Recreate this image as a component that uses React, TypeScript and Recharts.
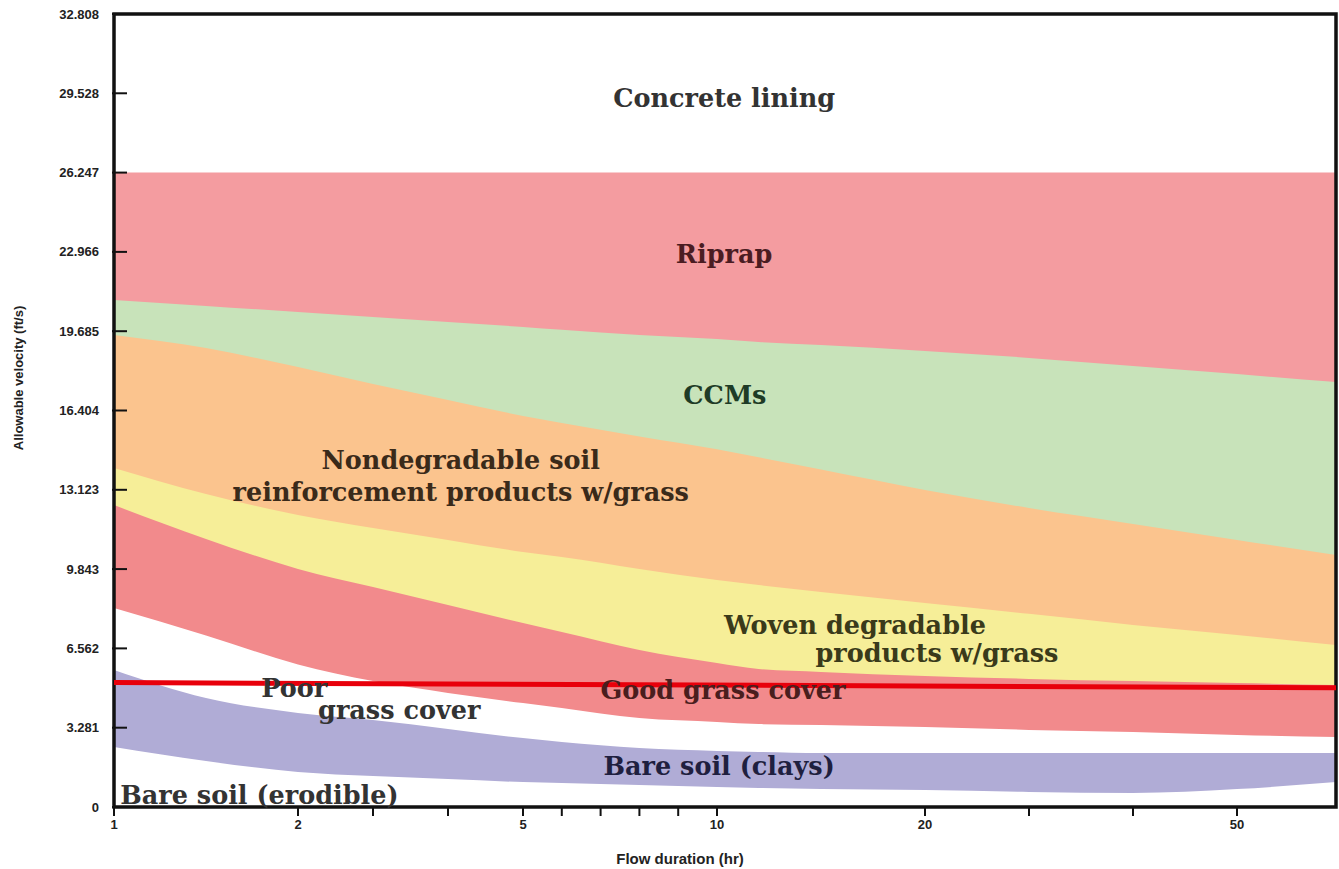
import { Area, ComposedChart, Line, ReferenceArea, ReferenceDot, XAxis, YAxis } from "recharts";

// flow duration (hr) at which the band edges were read
const DURATION_HR = [1, 1.5, 2, 3, 4, 5, 6, 8, 10, 12, 15, 20, 30, 40, 50, 60];

// upper edge of each lining band, allowable velocity in ft/s
const RIPRAP_TOP = [26.247, 26.247, 26.247, 26.247, 26.247, 26.247, 26.247, 26.247, 26.247, 26.247, 26.247, 26.247, 26.247, 26.247, 26.247, 26.247];
const CCM_TOP = [20.98, 20.73, 20.48, 20.27, 20.07, 19.86, 19.74, 19.53, 19.36, 19.24, 19.11, 18.87, 18.58, 18.25, 17.91, 17.58];
const NONDEGRADABLE_TOP = [19.53, 18.99, 18.2, 17.5, 16.84, 16.18, 15.89, 15.33, 14.8, 14.47, 13.96, 13.12, 12.37, 11.71, 11.05, 10.43];
const WOVEN_TOP = [14.03, 12.95, 12.08, 11.54, 11.05, 10.55, 10.34, 9.85, 9.39, 9.18, 8.9, 8.44, 7.99, 7.53, 7.12, 6.7];
const GOOD_GRASS_TOP = [12.49, 11.09, 9.85, 9.1, 8.36, 7.61, 7.24, 6.5, 5.96, 5.71, 5.59, 5.42, 5.3, 5.21, 5.13, 5.05];
const POOR_GRASS_TOP = [8.23, 7.1, 5.9, 5.21, 4.72, 4.3, 4.1, 3.68, 3.52, 3.43, 3.39, 3.31, 3.19, 3.1, 2.98, 2.9];
const CLAYS_TOP = [5.67, 4.51, 3.89, 3.6, 3.23, 2.85, 2.69, 2.44, 2.32, 2.28, 2.23, 2.23, 2.23, 2.23, 2.23, 2.23];
const ERODIBLE_TOP = [2.48, 1.9, 1.45, 1.28, 1.16, 1.03, 0.99, 0.91, 0.83, 0.79, 0.74, 0.7, 0.62, 0.58, 0.74, 1.03];

// red design line, only its two ends
const LIMIT = [5.15, null, null, null, null, null, null, null, null, null, null, null, null, null, null, 4.93];

// the printed duration axis is stretched piecewise (1-2, 2-5, 5-10, 10-20, 20-60)
const SCALE_HOURS = [1, 2, 5, 10, 20, 50, 60];
const SCALE_UNITS = [0, 184, 409, 603, 811, 1123, 1222];

const X_TICK_HOURS = [1, 2, 3, 4, 5, 6, 7, 8, 9, 10, 20, 30, 40, 50];
const X_LABELLED = [1, 2, 5, 10, 20, 50];
const Y_TICKS = [0, 3.281, 6.562, 9.843, 13.123, 16.404, 19.685, 22.966, 26.247, 29.528, 32.808];

const COLORS = {
  riprap: "#f49ca0",
  ccm: "#c8e3ba",
  nondegradable: "#fbc48e",
  woven: "#f6ee98",
  goodGrass: "#f28a8c",
  clays: "#b0acd6",
  limit: "#e8000b",
};

const NOTES = [
  { text: "Concrete lining", hr: 10.34, v: 29.33, color: "#333333" },
  { text: "Riprap", hr: 10.34, v: 22.88, color: "#4b1c22" },
  { text: "CCMs", hr: 10.38, v: 17.05, color: "#1e3b26" },
  { text: "Nondegradable soil", hr: 4.17, v: 14.36, color: "#3a2a1a" },
  { text: "reinforcement products w/grass", hr: 4.17, v: 13.03, color: "#3a2a1a" },
  { text: "Woven degradable", hr: 16.63, v: 7.53, color: "#3a3a1a" },
  { text: "products w/grass", hr: 21.15, v: 6.37, color: "#3a3a1a" },
  { text: "Good grass cover", hr: 10.29, v: 4.84, color: "#4a1e1e" },
  { text: "Poor", hr: 1.98, v: 4.92, color: "#333333" },
  { text: "grass cover", hr: 3.35, v: 4.01, color: "#333333" },
  { text: "Bare soil (clays)", hr: 10.1, v: 1.7, color: "#1f1f3f" },
  { text: "Bare soil (erodible)", hr: 1.79, v: 0.5, color: "#333333" },
];

const SANS = "'Liberation Sans', Arial, sans-serif";
const SERIF = "'DejaVu Serif', 'Liberation Serif', serif";

function hoursToAxis(hr: number) {
  for (let i = 1; i < SCALE_HOURS.length; i++) {
    if (hr <= SCALE_HOURS[i] || i === SCALE_HOURS.length - 1) {
      const t = (hr - SCALE_HOURS[i - 1]) / (SCALE_HOURS[i] - SCALE_HOURS[i - 1]);
      return SCALE_UNITS[i - 1] + t * (SCALE_UNITS[i] - SCALE_UNITS[i - 1]);
    }
  }
  return 0;
}

const rows = DURATION_HR.map((hr, i) => ({
  pos: hoursToAxis(hr),
  riprap: RIPRAP_TOP[i],
  ccm: CCM_TOP[i],
  nondegradable: NONDEGRADABLE_TOP[i],
  woven: WOVEN_TOP[i],
  goodGrass: GOOD_GRASS_TOP[i],
  poorGrass: POOR_GRASS_TOP[i],
  clays: CLAYS_TOP[i],
  erodible: ERODIBLE_TOP[i],
  limit: LIMIT[i],
}));

const xTicks = X_TICK_HOURS.map(hoursToAxis);

function formatXTick(value: number) {
  const hr = X_LABELLED.find((h) => Math.abs(hoursToAxis(h) - value) < 1e-6);
  return hr === undefined ? "" : String(hr);
}

function YTick(props: any) {
  const { x, y, payload } = props;
  return (
    <g>
      <line x1={x + 13} x2={x + 28} y1={y} y2={y} stroke="#111" strokeWidth={2} />
      <text x={x} y={y} textAnchor="end" dominantBaseline="central" fill="#222" fontSize={13} fontWeight="bold" fontFamily={SANS}>
        {String(payload.value)}
      </text>
    </g>
  );
}

function band(key: string, fill: string) {
  return (
    <Area
      key={key}
      dataKey={key}
      type="monotone"
      fill={fill}
      fillOpacity={1}
      stroke="none"
      dot={false}
      activeDot={false}
      isAnimationActive={false}
    />
  );
}

export default function App() {
  return (
    <div style={{ position: "absolute", left: 0, top: 0, width: 1339, height: 869, background: "#fff" }}>
      <ComposedChart width={1339} height={869} data={rows} margin={{ top: 14, right: 3, bottom: 0, left: 0 }}>
        <XAxis
          dataKey="pos"
          type="number"
          domain={[0, 1222]}
          ticks={xTicks}
          interval={0}
          tickFormatter={formatXTick}
          axisLine={false}
          tickSize={9}
          tickMargin={4}
          tickLine={{ stroke: "#111", strokeWidth: 2 }}
          tick={{ fill: "#222", fontSize: 13, fontWeight: "bold", fontFamily: SANS }}
          height={62}
          label={{
            value: "Flow duration (hr)",
            position: "insideBottom",
            offset: 5,
            dx: -45,
            style: { fill: "#222", fontSize: 15, fontWeight: "bold", fontFamily: SANS },
          }}
        />
        <YAxis
          type="number"
          domain={[0, 32.808]}
          ticks={Y_TICKS}
          interval={0}
          axisLine={false}
          tickLine={false}
          tickSize={0}
          tickMargin={15}
          tick={<YTick />}
          width={114}
          label={{
            content: () => (
              <text
                x={18}
                y={378}
                transform="rotate(-90 18 378)"
                textAnchor="middle"
                dominantBaseline="central"
                fill="#222"
                fontSize={13}
                fontWeight="bold"
                fontFamily={SANS}
              >
                Allowable velocity (ft/s)
              </text>
            ),
          }}
        />
        {band("riprap", COLORS.riprap)}
        {band("ccm", COLORS.ccm)}
        {band("nondegradable", COLORS.nondegradable)}
        {band("woven", COLORS.woven)}
        {band("goodGrass", COLORS.goodGrass)}
        {band("poorGrass", "#ffffff")}
        {band("clays", COLORS.clays)}
        {band("erodible", "#ffffff")}
        {NOTES.map((n) => (
          <ReferenceDot
            key={n.text}
            x={hoursToAxis(n.hr)}
            y={n.v}
            r={0}
            ifOverflow="visible"
            shape={(p: any) => (
              <text
                x={p.cx}
                y={p.cy}
                textAnchor="middle"
                dominantBaseline="central"
                fill={n.color}
                fontSize={25.5}
                fontWeight="bold"
                fontFamily={SERIF}
              >
                {n.text}
              </text>
            )}
          />
        ))}
        <Line
          dataKey="limit"
          type="linear"
          stroke={COLORS.limit}
          strokeWidth={5}
          dot={false}
          activeDot={false}
          connectNulls
          isAnimationActive={false}
        />
        <ReferenceArea x1={0} x2={1222} y1={0} y2={32.808} fill="none" stroke="#111" strokeWidth={3.5} ifOverflow="visible" />
      </ComposedChart>
    </div>
  );
}
